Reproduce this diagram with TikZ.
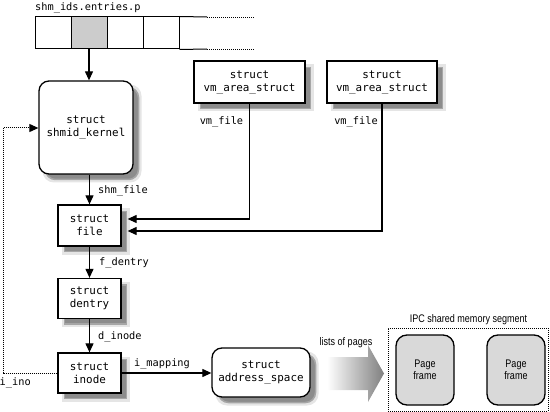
\documentclass[tikz,border=0pt]{standalone}
\usepackage{fontspec}
\newfontfamily\codefont{DejaVu Sans Mono}
\newfontfamily\condfont[FakeStretch=0.82]{Liberation Sans}
\usetikzlibrary{arrows.meta,calc}
% #1 name, #2 x, #3 y, #4 width, #5 height, #6 corner radius, #7 text
\newcommand\shbox[7]{%
  \node[shadowA, rounded corners=#6, minimum width=#4pt+2pt, minimum height=#5pt+2pt] (#1-sa) at ({#2+6},{#3+6}) {};
  \node[shadowB, rounded corners=#6, minimum width=#4pt-1pt, minimum height=#5pt-1pt] (#1-sb) at ({#2+6},{#3+6}) {};
  \node[box, rounded corners=#6, minimum width=#4pt, minimum height=#5pt] (#1) at (#2,#3) {#7};
}
\begin{document}
\begin{tikzpicture}[x=1pt,y=-1pt,
 shadowA/.style={fill=black!22, draw=black!10, line width=3pt, inner sep=0pt},
 shadowB/.style={fill=black!45, draw=black!35, line width=1.5pt, inner sep=0pt},
 box/.style={draw, line width=1.3pt, fill=white, inner sep=0pt, align=center,
   font=\codefont\fontsize{10.9}{13}\selectfont},
 cell/.style={draw, line width=1pt, minimum width=36pt, minimum height=32pt, inner sep=0pt},
 lbl/.style={font=\codefont\fontsize{10.3}{12}\selectfont, inner sep=0pt},
 cond/.style={font=\condfont\fontsize{11}{12}\selectfont, inner sep=0pt, align=center},
 arr/.style={line width=1.1pt, -{Triangle[length=9pt,width=8pt]}},
 dots/.style={line width=1pt, dash pattern=on 1pt off 1pt},
 frame/.style={draw, line width=1.3pt, fill=black!15, rounded corners=11pt, inner sep=0pt,
   minimum width=58pt, minimum height=70pt, cond},
 ]
\useasboundingbox (0,0) rectangle (550,412);

% array
\node[lbl, anchor=west] (arrlbl) at (35,8) {shm\_ids.entries.p};
\node[cell] (c1) at (53,33) {};
\node[cell, fill=black!20] (c2) at (89,33) {};
\node[cell] (c3) at (125,33) {};
\node[cell] (c4) at (161,33) {};
\coordinate (t1) at (207,17);
\coordinate (t2) at (255,17);
\coordinate (b1) at (207,49);
\coordinate (b2) at (255,49);
\draw[line width=1pt] (c4.north east) -- (t1);
\draw[line width=1pt] (c4.south east) -- (b1);
\draw[dots, line width=0.8pt] (t1) -- (t2);
\draw[dots, line width=0.8pt] (b1) -- (b2);

% boxes
\shbox{kern}{86}{127.5}{94}{93}{10pt}{struct\\shmid\_kernel}
\shbox{file}{89.5}{225.5}{63}{41}{0pt}{struct\\file}
\shbox{dentry}{89.5}{298.5}{63}{40}{0pt}{struct\\dentry}
\shbox{inode}{89.5}{373}{63}{40}{0pt}{struct\\inode}
\shbox{vm1}{249.5}{82}{111}{42}{0pt}{struct\\vm\_area\_struct}
\shbox{vm2}{382}{82}{110}{42}{0pt}{struct\\vm\_area\_struct}
\shbox{aspace}{261}{372.5}{98}{49}{10pt}{struct\\address\_space}

% segment
\node[draw, dots, minimum width=160pt, minimum height=83pt, inner sep=0pt] (seg) at (468,369.5) {};
\node[cond] (seglbl) at (468.5,320) {IPC shared memory segment};
\node[frame] (pf1) at (425,370) {Page\\frame};
\node[frame] (pf2) at (516,370) {Page\\frame};

% shaded arrow
\shade[left color=white, right color=black!50]
  (327,357) -- (368,357) -- (368,345) -- (384,373.5) -- (368,402) -- (368,390) -- (327,390) -- cycle;
\node[cond] (lop) at (346,343) {lists of pages};

% connectors
\draw[arr] (c2.south) -- (kern.north -| c2.south);
\draw[arr] (kern.south -| file.north) -- (file.north);
\node[lbl, anchor=west] (l1) at (98,191) {shm\_file};
\draw[arr] (file) -- (dentry);
\node[lbl, anchor=west] (l2) at (99,263) {f\_dentry};
\draw[arr] (dentry) -- (inode);
\node[lbl, anchor=west] (l3) at (98,337) {d\_inode};
\draw[arr] (inode.east) -- (inode.east -| aspace.west);
\node[lbl] (l4) at (162,364) {i\_mapping};
\draw[arr] (vm1.south) |- ($(file.east)+(6,-6.5)$);
\draw[arr] (vm2.south) |- ($(file.east)+(6,5.5)$);
\node[lbl] (l5) at (221.5,122) {vm\_file};
\node[lbl] (l6) at (356,122) {vm\_file};

\coordinate (lo) at (3,373);
\coordinate (hi) at (3,128);
\draw[dots, -{Triangle[length=9pt,width=8pt]}] (inode.west) -- (lo) -- (hi) -- (hi -| kern.west);
\node[lbl, anchor=west] (l7) at (-0.5,383) {i\_ino};
\end{tikzpicture}
\end{document}
